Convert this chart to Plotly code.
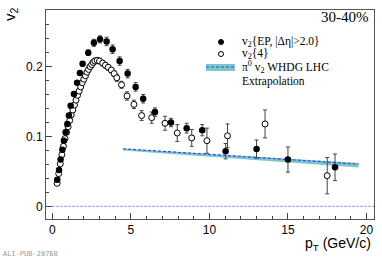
import plotly.graph_objects as go

# ---- data: v2{EP, |deta|>2.0} (filled) ----
ep_pt = [0.31, 0.42, 0.52, 0.63, 0.73, 0.84, 0.95, 1.05, 1.16, 1.37, 1.57, 1.75, 1.92,
         2.28, 2.64, 3.03, 3.45, 3.83, 4.28, 4.79, 5.3, 5.78, 6.53, 7.55, 8.55, 9.54,
         11.03, 13.0, 15.0, 18.0]
ep_v2 = [0.038, 0.052, 0.067, 0.081, 0.094, 0.106, 0.118, 0.130, 0.144, 0.161, 0.177, 0.191, 0.204,
         0.220, 0.234, 0.239, 0.236, 0.225, 0.208, 0.190, 0.171, 0.154, 0.135, 0.120, 0.112, 0.109,
         0.079, 0.082, 0.067, 0.056]
ep_err = [0.001, 0.001, 0.001, 0.001, 0.001, 0.001, 0.001, 0.001, 0.002, 0.002, 0.002, 0.003, 0.003,
          0.004, 0.005, 0.005, 0.006, 0.006, 0.006, 0.006, 0.006, 0.006, 0.006, 0.006, 0.007, 0.008,
          0.011, 0.013, 0.018, 0.019]

# ---- data: v2{4} (open) ----
c4_pt = [0.3, 0.4, 0.5, 0.6, 0.7, 0.8, 0.9, 1.0, 1.1, 1.2, 1.3, 1.4, 1.5, 1.6, 1.7, 1.8, 1.9,
         2.0, 2.1, 2.2, 2.3, 2.4, 2.5, 2.6, 2.7, 2.85, 3.0, 3.2, 3.37, 3.55, 3.75, 3.93, 4.1,
         4.4, 4.75, 5.19, 5.68, 6.32, 7.17, 7.95, 8.87, 9.84, 11.15, 13.54, 17.5]
c4_v2 = [0.033, 0.047, 0.061, 0.074, 0.086, 0.097, 0.106, 0.114, 0.123, 0.131, 0.138, 0.145, 0.152,
         0.159, 0.165, 0.171, 0.177, 0.182, 0.187, 0.192, 0.196, 0.200, 0.203, 0.206, 0.208, 0.209,
         0.208, 0.205, 0.202, 0.199, 0.195, 0.190, 0.184, 0.174, 0.158, 0.146, 0.130, 0.127, 0.119,
         0.105, 0.098, 0.094, 0.101, 0.118, 0.044]
c4_err = [0.002, 0.002, 0.002, 0.002, 0.002, 0.002, 0.002, 0.002, 0.002, 0.002, 0.002, 0.002, 0.003,
          0.003, 0.003, 0.003, 0.003, 0.003, 0.003, 0.003, 0.003, 0.003, 0.004, 0.004, 0.004, 0.004,
          0.004, 0.004, 0.004, 0.004, 0.004, 0.004, 0.005, 0.005, 0.006, 0.006, 0.007, 0.008, 0.010,
          0.012, 0.012, 0.018, 0.017, 0.020, 0.026]

# ---- data: pi0 v2 WHDG LHC extrapolation ----
whdg_pt = [4.5, 7.0, 10.0, 13.0, 16.0, 19.5]
whdg_v2 = [0.0825, 0.0790, 0.0745, 0.0700, 0.0655, 0.0605]
whdg_hi = [0.0830, 0.0795, 0.0752, 0.0710, 0.0668, 0.0622]
whdg_lo = [0.0800, 0.0760, 0.0710, 0.0660, 0.0610, 0.0555]

zero_pt = [0.0, 20.5]
zero_v2 = [0.0, 0.0]

x_ticks = [0, 5, 10, 15, 20]
y_ticks = [0, 0.1, 0.2]
y_ticklabels = ["0", "0.1", "0.2"]

BAND = "rgba(118,196,196,0.95)"
LINE_BLUE = "#2a4bff"

fig = go.Figure()

# zero line
fig.add_trace(go.Scatter(x=zero_pt, y=zero_v2, mode="lines",
                         line=dict(color="#8a8ae8", width=1.2, dash="2px,2px"),
                         hoverinfo="skip", showlegend=False))
# band
fig.add_trace(go.Scatter(x=whdg_pt, y=whdg_hi, mode="lines", line=dict(width=0, color=BAND),
                         hoverinfo="skip", showlegend=False))
fig.add_trace(go.Scatter(x=whdg_pt, y=whdg_lo, mode="lines", line=dict(width=0, color=BAND),
                         fill="tonexty", fillcolor=BAND, hoverinfo="skip", showlegend=False))
fig.add_trace(go.Scatter(x=whdg_pt, y=whdg_v2, mode="lines",
                         line=dict(color=LINE_BLUE, width=1.2, dash="3px,2px"),
                         hoverinfo="skip", showlegend=False))

# v2{4}
fig.add_trace(go.Scatter(x=c4_pt, y=c4_v2, mode="markers",
                         marker=dict(symbol="circle", size=6, color="white",
                                     line=dict(color="black", width=1)),
                         error_y=dict(type="data", array=c4_err, color="#444", thickness=1, width=2),
                         showlegend=False))
# v2{EP}
fig.add_trace(go.Scatter(x=ep_pt, y=ep_v2, mode="markers",
                         marker=dict(symbol="circle", size=6.5, color="black"),
                         error_y=dict(type="data", array=ep_err, color="#444", thickness=1, width=2),
                         showlegend=False))

L, R, T, B = 46, 8, 10, 41
W, H = 382, 260
pw, ph = W - L - R, H - T - B


def px(xp):
    return (xp - L) / pw


def py(yp):
    return (H - B - yp) / ph


serif = "Liberation Serif"
sans = "Liberation Sans"

annotations = [
    dict(text="30-40%", x=px(371), y=py(17), xanchor="right", yanchor="middle",
         font=dict(family=serif, size=15, color="black")),
    dict(text="v<sub>2</sub>{EP, |Δη|>2.0}", x=px(240), y=py(42), xanchor="left", yanchor="middle",
         font=dict(family=serif, size=11.5, color="black")),
    dict(text="v<sub>2</sub>{4}", x=px(240), y=py(54), xanchor="left", yanchor="middle",
         font=dict(family=serif, size=11.5, color="black")),
    dict(text="π<sup>0</sup> v<sub>2</sub> WHDG LHC", x=px(240), y=py(67), xanchor="left", yanchor="middle",
         font=dict(family=serif, size=11.5, color="black")),
    dict(text="Extrapolation", x=px(240), y=py(81), xanchor="left", yanchor="middle",
         font=dict(family=serif, size=11.5, color="black")),
    dict(text="v<sub>2</sub>", x=px(11), y=py(14), xanchor="center", yanchor="middle", textangle=-90,
         font=dict(family=sans, size=15, color="black")),
    dict(text="p<sub>T</sub> (GeV/c)", x=px(373), y=py(244), xanchor="right", yanchor="middle",
         font=dict(family=sans, size=14, color="black")),
    dict(text="ALI-PUB-28768", x=px(1), y=py(254), xanchor="left", yanchor="middle",
         font=dict(family="DejaVu Sans Mono", size=7, color="#999")),
]
for a in annotations:
    a.update(xref="paper", yref="paper", showarrow=False)

shapes = [
    dict(type="circle", xref="paper", yref="paper", xsizemode="pixel", ysizemode="pixel",
         xanchor=px(221), yanchor=py(42), x0=-2.5, x1=2.5, y0=-2.5, y1=2.5,
         fillcolor="black", line=dict(color="black", width=1)),
    dict(type="circle", xref="paper", yref="paper", xsizemode="pixel", ysizemode="pixel",
         xanchor=px(221), yanchor=py(54), x0=-2.5, x1=2.5, y0=-2.5, y1=2.5,
         fillcolor="white", line=dict(color="black", width=1)),
    dict(type="rect", xref="paper", yref="paper", x0=px(206), x1=px(235), y0=py(64), y1=py(71),
         fillcolor=BAND, line=dict(width=0)),
    dict(type="line", xref="paper", yref="paper", x0=px(206), x1=px(235), y0=py(67), y1=py(67),
         line=dict(color=LINE_BLUE, width=1.2, dash="3px,2px")),
]

fig.update_layout(
    width=W, height=H,
    margin=dict(l=L, r=R, t=T, b=B, autoexpand=False),
    paper_bgcolor="white", plot_bgcolor="white",
    annotations=annotations, shapes=shapes,
    showlegend=False,
    xaxis=dict(range=[-0.41, 20.48], tickvals=x_ticks, ticktext=[str(t) for t in x_ticks],
               ticks="inside", ticklen=6, tickwidth=1, tickcolor="#444",
               minor=dict(dtick=1, tick0=0, ticks="inside", ticklen=3, tickcolor="#444"),
               showline=True, linecolor="#555", linewidth=1, mirror=True,
               showgrid=False, zeroline=False, automargin=False,
               tickfont=dict(family=sans, size=12, color="black")),
    yaxis=dict(range=[-0.018, 0.281], tickvals=y_ticks, ticktext=y_ticklabels,
               ticks="inside", ticklen=6, tickwidth=1, tickcolor="#444",
               minor=dict(dtick=0.02, tick0=0, ticks="inside", ticklen=3, tickcolor="#444"),
               showline=True, linecolor="#555", linewidth=1, mirror=True,
               showgrid=False, zeroline=False, automargin=False,
               tickfont=dict(family=sans, size=12, color="black")),
)

fig.write_html("out.html", config={"displayModeBar": False, "staticPlot": True},
               post_script="document.body.style.margin='0';document.body.style.overflow='hidden';")
